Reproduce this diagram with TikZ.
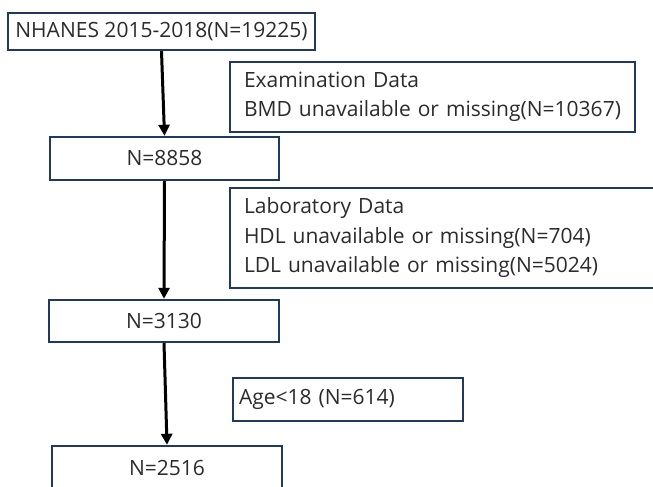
\documentclass[tikz,border=0pt]{standalone}
\usepackage{fontspec}
\setmainfont{Open Sans}
\usetikzlibrary{arrows.meta}
\definecolor{boxblue}{HTML}{1F3864}
\definecolor{txtgray}{HTML}{2B2B2B}
\begin{document}
\begin{tikzpicture}[x=1bp,y=-1bp,>={Triangle[width=11bp,length=11bp]},
    box/.style={draw=boxblue,line width=2.4bp,text=txtgray,inner sep=0pt,
        font=\fontsize{21bp}{29.5bp}\selectfont},
    side/.style={box,align=left,inner xsep=14bp}]
\useasboundingbox (0,0) rectangle (653,487);

% main flow
\node[box,minimum width=307bp,minimum height=37bp] (nh) at (161.5,31.5)
    {NHANES 2015-2018(N=19225)};
\node[box,minimum width=229bp,minimum height=43bp] (n1) at (164.5,158.5)
    {N=8858};
\node[box,minimum width=230bp,minimum height=42bp] (n2) at (164,321)
    {N=3130};
\node[box,minimum width=230bp,minimum height=44bp] (n3) at (167,468)
    {N=2516};

% exclusions
\node[side,text width=377bp,minimum height=70bp] (ex) at (432.5,97)
    {Examination Data\\BMD unavailable or missing(N=10367)};
\node[side,text width=402bp,minimum height=100bp] (lab) at (445,238)
    {Laboratory Data\\HDL unavailable or missing(N=704)\\LDL unavailable or missing(N=5024)};
\node[side,inner xsep=6bp,text width=218bp,minimum height=43bp] (age) at (348,399.5)
    {Age<18 (N=614)};

\draw[->,line width=3bp] (nh.south)--(n1.north);
\draw[->,line width=3bp] (n1.south)--(n2.north);
\draw[->,line width=3bp] (n2.south)--(n3.north);
\end{tikzpicture}
\end{document}
